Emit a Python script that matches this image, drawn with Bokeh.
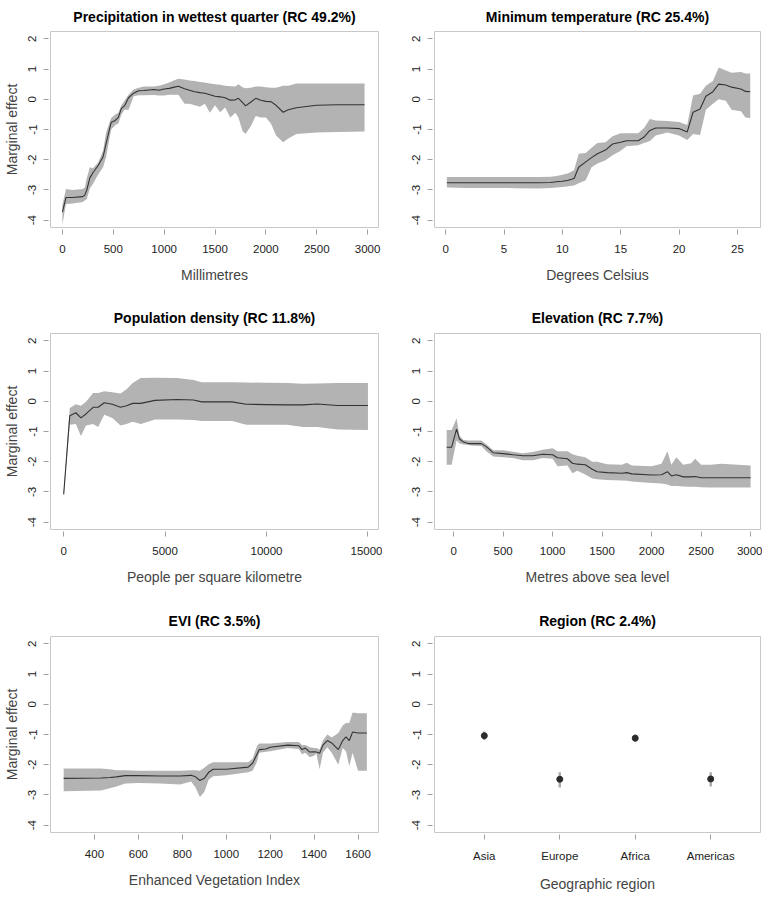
from bokeh.plotting import figure
from bokeh.layouts import column, row
from bokeh.models import FixedTicker, Range1d
from bokeh.embed import file_html
from bokeh.resources import INLINE

FONT = "Liberation Sans"
BAND = "#b3b3b3"
LINE = "#333333"
Y_TICKS = [-4, -3, -2, -1, 0, 1, 2]

# ---- Precipitation in wettest quarter ----
PRECIP_X = [0, 35, 100, 200, 220, 240, 270, 300, 350, 400, 430, 460, 480, 520, 550, 580, 610, 650, 700, 750,
            800, 900, 950, 1000, 1050, 1100, 1140, 1200, 1250, 1300, 1350, 1400, 1450, 1500, 1550, 1600, 1650,
            1700, 1730, 1770, 1800, 1850, 1900, 1950, 2000, 2050, 2100, 2170, 2220, 2300, 2400, 2500, 2700, 2970]
PRECIP_MID = [-3.73, -3.25, -3.25, -3.22, -3.17, -3.0, -2.6, -2.43, -2.2, -1.9, -1.46, -1.03, -0.76, -0.7, -0.6,
              -0.3, -0.22, 0.05, 0.2, 0.28, 0.29, 0.32, 0.3, 0.34, 0.36, 0.4, 0.43, 0.35, 0.3, 0.25, 0.22, 0.2,
              0.15, 0.1, 0.08, 0.05, -0.03, -0.02, 0.03, -0.1, -0.22, -0.1, 0.03, -0.03, -0.07, -0.08, -0.2,
              -0.43, -0.35, -0.28, -0.24, -0.2, -0.18, -0.18]
PRECIP_UP = [-3.5, -2.97, -3.0, -2.97, -2.92, -2.6, -2.25, -2.28, -2.1, -1.7, -1.1, -0.8, -0.62, -0.5, -0.45,
             -0.2, -0.05, 0.15, 0.32, 0.38, 0.42, 0.42, 0.45, 0.5, 0.55, 0.63, 0.68, 0.65, 0.62, 0.6, 0.57, 0.55,
             0.52, 0.5, 0.48, 0.45, 0.43, 0.42, 0.5, 0.4, 0.36, 0.38, 0.42, 0.42, 0.4, 0.38, 0.38, 0.45, 0.45,
             0.52, 0.52, 0.52, 0.52, 0.52]
PRECIP_LO = [-4.15, -3.46, -3.45, -3.4, -3.35, -3.3, -2.95, -2.8, -2.5, -2.25, -1.9, -1.35, -1.0, -0.85, -0.8,
             -0.5, -0.35, -0.35, 0.1, 0.13, 0.13, 0.14, 0.12, 0.12, 0.15, 0.15, 0.15, -0.15, -0.15, -0.2, -0.25,
             -0.15, -0.45, -0.2, -0.43, -0.27, -0.6, -0.45, -0.6, -1.05, -1.15, -0.9, -0.55, -0.6, -0.6, -0.8,
             -1.2, -1.42, -1.3, -1.15, -1.12, -1.1, -1.08, -1.07]

# ---- Minimum temperature ----
TEMP_X = [0.1, 2, 4, 6, 8, 9, 9.5, 10, 10.5, 11, 11.4, 12, 12.5, 13, 13.7, 14.3, 15, 15.5, 16.5, 17, 17.5,
          18, 19, 20, 20.7, 21.2, 21.8, 22.3, 22.9, 23.4, 24, 24.5, 25.3, 25.7, 26.1]
TEMP_MID = [-2.76, -2.76, -2.76, -2.76, -2.76, -2.75, -2.73, -2.71, -2.68, -2.62, -2.25, -2.07, -1.93, -1.8,
            -1.68, -1.48, -1.42, -1.37, -1.37, -1.25, -1.03, -0.95, -0.95, -0.97, -1.08, -0.43, -0.32, 0.1,
            0.25, 0.5, 0.47, 0.4, 0.34, 0.26, 0.25]
TEMP_UP = [-2.57, -2.57, -2.57, -2.57, -2.57, -2.56, -2.54, -2.5, -2.45, -2.35, -1.8, -1.78, -1.6, -1.45,
           -1.42, -1.22, -1.12, -1.12, -1.12, -0.95, -0.65, -0.7, -0.72, -0.75, -0.85, 0.12, 0.18, 0.45,
           0.6, 1.05, 0.95, 0.88, 0.9, 0.85, 0.85]
TEMP_LO = [-2.92, -2.93, -2.93, -2.94, -2.95, -2.93, -2.92, -2.9, -2.88, -2.85, -2.78, -2.68, -2.25, -2.12,
           -2.02, -1.85, -1.7, -1.55, -1.52, -1.45, -1.38, -1.2, -1.1, -1.2, -1.35, -1.15, -1.18, -0.35,
           -0.15, 0.0, -0.05, -0.35, -0.4, -0.6, -0.62]

# ---- Population density ----
POP_X = [0, 300, 600, 850, 1100, 1450, 1700, 2000, 2400, 2800, 3100, 3400, 3800, 4500, 5600, 6400, 6800,
         8300, 9000, 10000, 11000, 11800, 12500, 13500, 15000]
POP_MID = [-3.08, -0.48, -0.38, -0.55, -0.42, -0.2, -0.2, -0.05, -0.1, -0.2, -0.15, -0.07, -0.07, 0.03,
           0.06, 0.04, -0.02, -0.02, -0.1, -0.11, -0.12, -0.12, -0.09, -0.14, -0.14]
POP_UP = [-3.0, -0.22, -0.1, -0.15, -0.02, 0.27, 0.27, 0.33, 0.3, 0.26, 0.4, 0.6, 0.77, 0.78, 0.77, 0.7,
          0.63, 0.63, 0.62, 0.61, 0.6, 0.58, 0.59, 0.6, 0.6]
POP_LO = [-3.15, -0.78, -0.75, -1.15, -0.8, -0.75, -0.85, -0.45, -0.55, -0.8, -0.75, -0.68, -0.75, -0.6,
          -0.6, -0.62, -0.65, -0.65, -0.78, -0.78, -0.78, -0.85, -0.85, -0.93, -0.95]

# ---- Elevation ----
ELEV_X = [-70, -20, 30, 60, 100, 150, 200, 280, 330, 400, 500, 600, 700, 800, 900, 1000, 1050, 1150, 1200,
          1250, 1330, 1400, 1450, 1550, 1700, 1750, 1800, 2000, 2100, 2160, 2200, 2250, 2320, 2400, 2440,
          2500, 2600, 2700, 3000]
ELEV_MID = [-1.52, -1.52, -0.92, -1.25, -1.35, -1.4, -1.4, -1.4, -1.5, -1.7, -1.73, -1.77, -1.8, -1.8,
            -1.75, -1.77, -1.87, -1.9, -2.05, -2.08, -2.1, -2.25, -2.33, -2.36, -2.38, -2.36, -2.4, -2.44,
            -2.43, -2.33, -2.47, -2.43, -2.5, -2.5, -2.49, -2.53, -2.53, -2.53, -2.53]
ELEV_UP = [-0.95, -0.95, -0.57, -1.15, -1.28, -1.3, -1.3, -1.3, -1.42, -1.62, -1.62, -1.67, -1.72, -1.68,
           -1.6, -1.55, -1.65, -1.65, -1.75, -1.8, -1.85, -2.0, -2.0, -2.08, -2.1, -2.03, -2.12, -2.15,
           -2.07, -1.65, -2.1, -1.85, -2.1, -2.05, -1.9, -2.1, -2.1, -2.07, -2.12]
ELEV_LO = [-2.1, -2.1, -1.3, -1.4, -1.43, -1.45, -1.47, -1.48, -1.65, -1.83, -1.85, -1.88, -1.95, -1.95,
           -1.88, -1.9, -2.15, -2.12, -2.38, -2.3, -2.42, -2.55, -2.58, -2.6, -2.62, -2.63, -2.65, -2.7,
           -2.72, -2.75, -2.8, -2.8, -2.82, -2.83, -2.83, -2.84, -2.85, -2.85, -2.85]

# ---- EVI ----
EVI_X = [260, 430, 470, 500, 540, 600, 700, 790, 840, 860, 880, 900, 920, 940, 1000, 1100, 1120, 1140, 1150,
         1180, 1200, 1280, 1330, 1345, 1360, 1380, 1400, 1410, 1425, 1440, 1460, 1480, 1510, 1530, 1545,
         1560, 1575, 1600, 1640]
EVI_MID = [-2.45, -2.44, -2.42, -2.4, -2.36, -2.36, -2.37, -2.37, -2.35, -2.4, -2.52, -2.45, -2.25, -2.15,
           -2.15, -2.08, -1.95, -1.65, -1.5, -1.48, -1.42, -1.35, -1.37, -1.5, -1.45, -1.58, -1.57, -1.58,
           -1.62, -1.35, -1.2, -1.28, -1.5, -1.2, -1.08, -1.2, -0.92, -0.95, -0.95]
EVI_UP = [-2.12, -2.12, -2.15, -2.18, -2.18, -2.2, -2.2, -2.2, -2.18, -2.18, -2.2, -2.1, -1.98, -1.92,
          -1.92, -1.92, -1.8, -1.38, -1.3, -1.3, -1.3, -1.25, -1.25, -1.35, -1.35, -1.42, -1.45, -1.45, -1.5,
          -1.2, -1.0, -1.1, -0.95, -0.7, -0.62, -0.62, -0.27, -0.3, -0.3]
EVI_LO = [-2.88, -2.85, -2.78, -2.72, -2.62, -2.6, -2.62, -2.65, -2.55, -2.75, -3.07, -2.9, -2.5, -2.38,
          -2.35, -2.25, -2.2, -1.9, -1.6, -1.57, -1.55, -1.45, -1.48, -1.65, -1.6, -1.75, -1.7, -1.62, -2.15,
          -1.6, -1.42, -1.6, -2.0, -1.45, -1.55, -2.05, -1.6, -2.2, -2.2]

# ---- Region ----
REGIONS = ["Asia", "Europe", "Africa", "Americas"]
REGION_EFFECT = [-1.04, -2.48, -1.12, -2.47]
REGION_LO = [-1.18, -2.75, -1.24, -2.72]
REGION_UP = [-0.9, -2.25, -1.0, -2.25]

TITLES = ["Precipitation in wettest quarter (RC 49.2%)", "Minimum temperature (RC 25.4%)",
          "Population density (RC 11.8%)", "Elevation (RC 7.7%)", "EVI (RC 3.5%)", "Region (RC 2.4%)"]
XLABELS = ["Millimetres", "Degrees Celsius", "People per square kilometre", "Metres above sea level",
           "Enhanced Vegetation Index", "Geographic region"]
XTICKS = [[0, 500, 1000, 1500, 2000, 2500, 3000], [0, 5, 10, 15, 20, 25],
          [0, 5000, 10000, 15000], [0, 500, 1000, 1500, 2000, 2500, 3000],
          [400, 600, 800, 1000, 1200, 1400, 1600], [1, 2, 3, 4]]
XRANGES = [(-117, 3107), (-0.96, 26.98), (-650, 15520), (-193, 3100), (200, 1693), (0.34, 4.66)]

# layout (fits 762 x 890 inside the 8px page margin):
# per row (border_top, border_bottom, title standoff); per column (border_left, frame_width, border_right)
ROWS = [(31, 71, 13), (35, 66, 15), (41, 58, 16)]
COLS = [(50, 328, 4), (52, 326, 2)]
FRAME_H = 196


def make_panel(i):
    r, c = divmod(i, 2)
    bt, bb, ts = ROWS[r]
    bl, fw, br = COLS[c]
    p = figure(frame_width=fw, frame_height=FRAME_H, x_range=Range1d(*XRANGES[i]),
               y_range=Range1d(-4.24, 2.24), output_backend="svg", toolbar_location=None,
               min_border_left=bl, min_border_right=br, min_border_top=bt, min_border_bottom=bb,
               title=TITLES[i])
    p.grid.visible = False
    p.outline_line_color = "#c8c8c8"
    p.outline_line_width = 1
    p.background_fill_color = "white"
    p.border_fill_color = "white"
    p.title.text_font = FONT
    p.title.text_font_size = "14px"
    p.title.text_font_style = "bold"
    p.title.text_color = "#000000"
    p.title.align = "center"
    p.title.standoff = ts
    for ax in (p.xaxis[0], p.yaxis[0]):
        ax.axis_line_color = None
        ax.major_tick_line_color = "#a0a0a0"
        ax.major_tick_in = -2
        ax.major_tick_out = 7
        ax.minor_tick_line_color = None
        ax.major_label_text_font = FONT
        ax.major_label_text_font_size = "11.5px"
        ax.major_label_text_color = "#222222"
        ax.axis_label_text_font = FONT
        ax.axis_label_text_font_size = "14px"
        ax.axis_label_text_font_style = "normal"
        ax.axis_label_text_color = "#444444"
    p.xaxis.ticker = FixedTicker(ticks=XTICKS[i])
    p.yaxis.ticker = FixedTicker(ticks=Y_TICKS)
    p.yaxis.major_label_overrides = {t: str(t) for t in Y_TICKS}
    p.yaxis.major_label_orientation = "vertical"
    p.xaxis.major_label_standoff = 10
    p.xaxis.axis_label_standoff = 11
    p.yaxis.major_label_standoff = 7
    p.yaxis.axis_label_standoff = 6
    p.xaxis.axis_label = XLABELS[i]
    if c == 0:
        p.yaxis.axis_label = "Marginal effect"
    return p


series = [(PRECIP_X, PRECIP_MID, PRECIP_LO, PRECIP_UP), (TEMP_X, TEMP_MID, TEMP_LO, TEMP_UP),
          (POP_X, POP_MID, POP_LO, POP_UP), (ELEV_X, ELEV_MID, ELEV_LO, ELEV_UP),
          (EVI_X, EVI_MID, EVI_LO, EVI_UP)]

panels = []
for i in range(6):
    p = make_panel(i)
    if i < 5:
        xs, mid, lo, up = series[i]
        p.varea(x=xs, y1=lo, y2=up, fill_color=BAND, fill_alpha=1.0)
        p.line(x=xs, y=mid, line_color=LINE, line_width=1.1)
    else:
        pos = list(range(1, len(REGIONS) + 1))
        p.xaxis.major_label_overrides = {k: name for k, name in zip(pos, REGIONS)}
        p.segment(x0=pos, y0=REGION_LO, x1=pos, y1=REGION_UP, line_color="#aaaaaa", line_width=2.5)
        p.scatter(x=pos, y=REGION_EFFECT, size=6, fill_color="#2b2b2b", line_color="#2b2b2b")
    panels.append(p)

layout = column(row(panels[0], panels[1]), row(panels[2], panels[3]), row(panels[4], panels[5]))

open("out.html", "w").write(file_html(layout, INLINE))
